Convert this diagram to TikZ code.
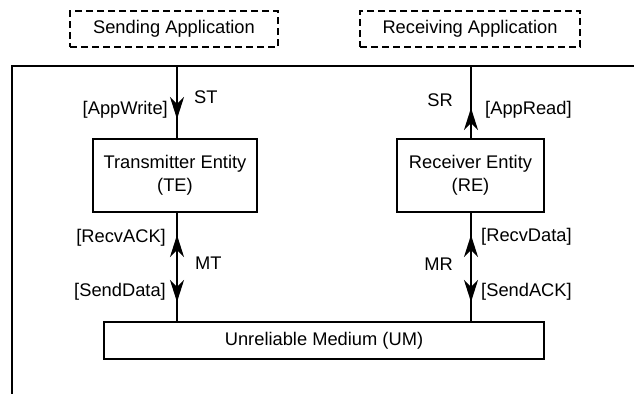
\documentclass[tikz,border=0pt]{standalone}
\usepackage{fontspec}
\setmainfont{Liberation Sans}
\usetikzlibrary{arrows.meta}
\begin{document}
\begin{tikzpicture}[x=1pt,y=-1pt,
  every node/.style={font=\fontsize{18.3}{23}\selectfont, inner sep=0pt},
  entity/.style={draw, line width=2pt, align=center},
  appbox/.style={draw, line width=1.6pt, dash pattern=on 7pt off 4pt},
  link/.style={line width=2pt},
  tip/.style={line width=2pt, -{Stealth[length=22pt,width=14pt,inset=7pt]}},
  tipup/.style={tip, {Stealth[length=22pt,width=14pt,inset=7pt]}-}
]
\useasboundingbox (0,0) rectangle (634,394);

% applications above the protocol frame
\node[appbox, minimum width=208pt, minimum height=36pt] (sapp) at (174,29) {Sending Application};
\node[appbox, minimum width=220pt, minimum height=36pt] (rapp) at (470,29) {Receiving Application};

% protocol frame (top and left edges only)
\coordinate (frameTL) at (12,66);
\coordinate (frameTR) at (634,66);
\coordinate (frameBL) at (12,394);
\draw[link] (frameTR) -- (frameTL) -- (frameBL);

% entities and medium
\node[entity, minimum width=164pt, minimum height=73pt] (te) at (175,175.5) {Transmitter Entity\\(TE)};
\node[entity, minimum width=147pt, minimum height=73pt] (re) at (470.5,175.5) {Receiver Entity\\(RE)};
\node[entity, minimum width=440pt, minimum height=37pt] (um) at (324,340.5) {Unreliable Medium (UM)};

% service access points on the frame
\coordinate (stTop) at (177,66);
\coordinate (srTop) at (471,66);

% connectors
\draw[link] (stTop) -- (stTop |- te.north);
\draw[link] (srTop) -- (srTop |- re.north);
\draw[link] (te.south -| stTop) -- (um.north -| stTop);
\draw[link] (re.south -| srTop) -- (um.north -| srTop);

% direction heads
\draw[tip] (177,95) -- (177,119);
\draw[tipup] (471,108) -- (471,132);
\draw[tipup] (177,235) -- (177,259);
\draw[tip] (177,278) -- (177,302);
\draw[tipup] (471,235) -- (471,259);
\draw[tip] (471,278) -- (471,302);

% labels
\node[anchor=east] (lAppWrite) at (168,110) {[AppWrite]};
\node[anchor=west] (lST) at (194,97) {ST};
\node[anchor=east] (lSR) at (453,100) {SR};
\node[anchor=west] (lAppRead) at (485,110) {[AppRead]};
\node[anchor=east] (lRecvACK) at (166,238) {[RecvACK]};
\node[anchor=west] (lMT) at (195,263) {MT};
\node[anchor=east] (lSendData) at (166,292) {[SendData]};
\node[anchor=west] (lRecvData) at (481,237) {[RecvData]};
\node[anchor=east] (lMR) at (453,264) {MR};
\node[anchor=west] (lSendACK) at (481,292) {[SendACK]};
\end{tikzpicture}
\end{document}
